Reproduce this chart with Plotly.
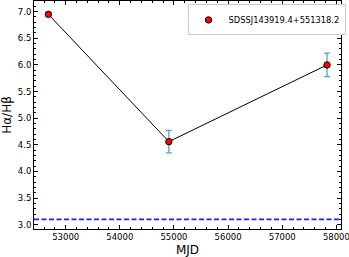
import plotly.graph_objects as go

mjd = [52680, 54906, 57827]
ratio = [6.95, 4.56, 6.00]
err = [0.03, 0.21, 0.22]
ref_level = 3.1
label = "SDSSJ143919.4+551318.2"

fig = go.Figure()
fig.add_trace(go.Scatter(x=mjd, y=ratio, mode="lines", line=dict(color="black", width=1),
                         showlegend=False, hoverinfo="skip"))
fig.add_trace(go.Scatter(x=mjd, y=ratio, mode="markers", name=label,
                         error_y=dict(type="data", array=err, color="#4ea1d8", thickness=1.3, width=3),
                         marker=dict(color="red", size=6.5, line=dict(color="black", width=0.9))))
fig.add_hline(y=ref_level, line=dict(color="#1f1fff", width=1.7, dash="5px,2.5px"))

axis_common = dict(showline=True, linecolor="black", linewidth=1, mirror="allticks",
                   ticks="inside", ticklen=4, tickwidth=1, tickcolor="black",
                   showgrid=False, zeroline=False, ticklabeloverflow="allow",
                   tickfont=dict(family="DejaVu Sans", size=8.5, color="black"))
fig.update_xaxes(range=[52415, 58085], dtick=1000, tickformat="d",
                 minor=dict(ticks="inside", dtick=200, ticklen=2, tickcolor="black"),
                 title=dict(text="MJD", font=dict(family="DejaVu Sans", size=12, color="black"), standoff=4),
                 **axis_common)
fig.update_yaxes(range=[2.92, 7.2], dtick=0.5, tickformat=".1f",
                 minor=dict(ticks="inside", dtick=0.1, ticklen=2, tickcolor="black"),
                 title=dict(text="Hα/Hβ", font=dict(family="DejaVu Sans", size=12, color="black"), standoff=3),
                 **axis_common)
fig.update_layout(width=349, height=257, margin=dict(l=34, r=8, t=1, b=28, autoexpand=False),
                  plot_bgcolor="white", paper_bgcolor="white",
                  legend=dict(x=0.5, y=0.985, xanchor="left", yanchor="top",
                              bordercolor="#cccccc", borderwidth=1, bgcolor="white",
                              font=dict(family="DejaVu Sans", size=8.3, color="black"),
                              itemwidth=30, tracegroupgap=0))
fig.write_html("out.html", config={"displayModeBar": False},
               post_script="document.body.style.margin='0px';")
